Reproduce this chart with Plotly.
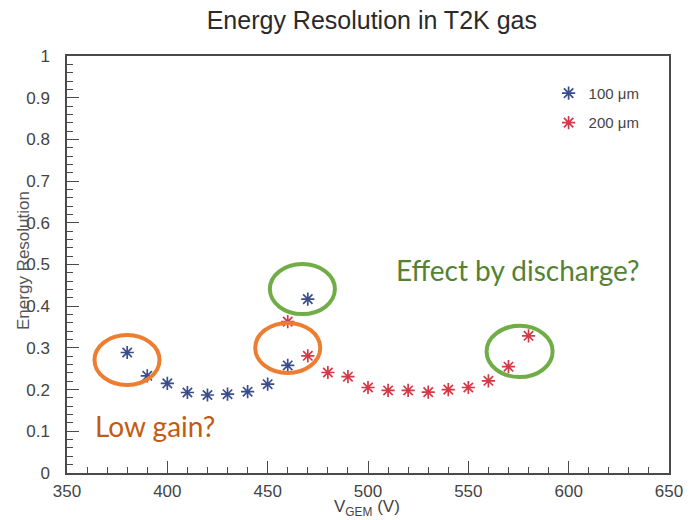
import plotly.graph_objects as go

# GEM voltage scan, energy resolution for two hole sizes
v_100um = [380, 390, 400, 410, 420, 430, 440, 450, 460, 470]
res_100um = [0.289, 0.233, 0.215, 0.193, 0.187, 0.189, 0.195, 0.213, 0.258, 0.417]

v_200um = [460, 470, 480, 490, 500, 510, 520, 530, 540, 550, 560, 570, 580]
res_200um = [0.363, 0.281, 0.241, 0.231, 0.205, 0.198, 0.198, 0.194, 0.200, 0.205, 0.221, 0.255, 0.329]

x_ticks = [350, 400, 450, 500, 550, 600, 650]
y_ticks = [0, 0.1, 0.2, 0.3, 0.4, 0.5, 0.6, 0.7, 0.8, 0.9, 1]
y_tick_text = ["0", "0.1", "0.2", "0.3", "0.4", "0.5", "0.6", "0.7", "0.8", "0.9", "1"]

BLUE = "#3b4e8c"
RED = "#d23a48"
ORANGE = "#ed7d31"
GREEN = "#70ad47"
AXIS = "#4a4a4a"
FONT = "Liberation Sans, Arial, sans-serif"

fig = go.Figure()
fig.add_trace(go.Scatter(
    x=v_100um, y=res_100um, mode="markers", name="100 \u03bcm", legendgroup="a",
    marker=dict(symbol="asterisk-open", size=11, color=BLUE,
                line=dict(color=BLUE, width=1.7)),
))
fig.add_trace(go.Scatter(
    x=v_200um, y=res_200um, mode="markers", name="200 \u03bcm", legendgroup="b",
    marker=dict(symbol="asterisk-open", size=11, color=RED,
                line=dict(color=RED, width=1.7)),
))

# Highlight ellipses around notable points
ellipses = [
    (363.7, 396.1, 0.211, 0.331, ORANGE),
    (443.8, 476.2, 0.240, 0.360, ORANGE),
    (451.1, 483.5, 0.381, 0.501, GREEN),
    (559.1, 592.0, 0.230, 0.353, GREEN),
]
for x0, x1, y0, y1, c in ellipses:
    fig.add_shape(type="circle", xref="x", yref="y", x0=x0, x1=x1, y0=y0, y1=y1,
                  line=dict(color=c, width=4))

fig.add_annotation(x=394.0, y=0.113, xref="x", yref="y", text="Low gain?",
                   showarrow=False, font=dict(family="Lato, sans-serif", size=28, color="#c55a11"))
fig.add_annotation(x=574.8, y=0.487, xref="x", yref="y", text="Effect by discharge?",
                   showarrow=False, font=dict(family="Lato, sans-serif", size=28, color="#548235"))

# Axis titles
fig.add_annotation(x=-0.072, y=0.51, xref="paper", yref="paper", text="Energy Resolution",
                   textangle=-90, showarrow=False, xanchor="center", yanchor="middle",
                   font=dict(family=FONT, size=17, color="#555555"))
fig.add_annotation(x=0.499, y=-0.084, xref="paper", yref="paper",
                   text="V<sub>GEM</sub> (V)", showarrow=False, xanchor="center", yanchor="middle",
                   font=dict(family=FONT, size=17, color="#444444"))

fig.update_layout(
    width=695, height=520,
    margin=dict(l=67, r=17, t=56, b=47),
    paper_bgcolor="white", plot_bgcolor="white",
    title=dict(text="Energy Resolution in T2K gas", x=0.535, xanchor="center",
               y=1 - 20 / 520, yanchor="middle",
               font=dict(family=FONT, size=25, color="#2a2a2a")),
    legend=dict(x=0.80, y=0.95, xanchor="left", yanchor="top", bgcolor="rgba(0,0,0,0)",
                font=dict(family=FONT, size=15, color="#444444"), itemwidth=30,
                tracegroupgap=7),
    showlegend=True,
)

fig.update_xaxes(
    range=[350, 650], tickvals=x_ticks, ticks="inside", ticklen=12, tickwidth=1.2,
    tickcolor=AXIS, showline=True, linecolor=AXIS, linewidth=1.5, mirror=True,
    showgrid=False, zeroline=False, ticklabelstandoff=2,
    tickfont=dict(family=FONT, size=17, color="#444444"),
    minor=dict(dtick=10, ticks="inside", ticklen=6, tickcolor=AXIS, showgrid=False),
)
fig.update_yaxes(
    range=[0, 1], tickvals=y_ticks, ticktext=y_tick_text, ticks="inside", ticklen=12,
    tickwidth=1.2, tickcolor=AXIS, showline=True, linecolor=AXIS, linewidth=1.5,
    mirror=True, showgrid=False, zeroline=False, ticklabelstandoff=12,
    tickfont=dict(family=FONT, size=17, color="#444444"),
    minor=dict(dtick=0.02, ticks="inside", ticklen=6, tickcolor=AXIS, showgrid=False),
)

fig.write_html("out.html")
